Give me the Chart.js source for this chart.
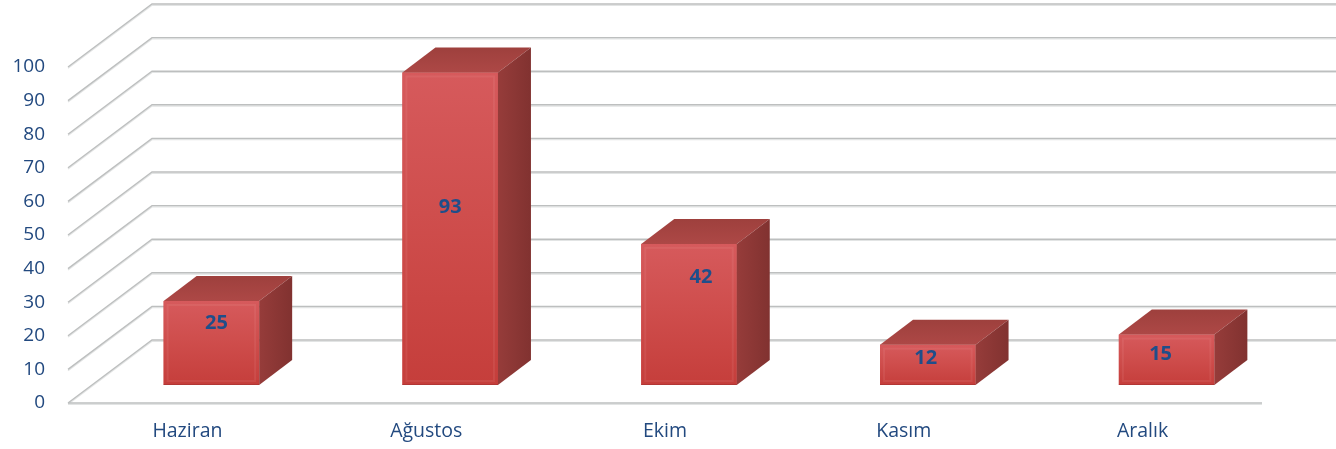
<!DOCTYPE html>
<html><head><meta charset="utf-8">
<script src="https://cdn.jsdelivr.net/npm/chart.js@4/dist/chart.umd.min.js"></script>
<style>html,body{margin:0;padding:0;background:#fff;overflow:hidden}</style>
</head><body>
<canvas id="c" width="1336" height="449" style="display:block;width:1336px;height:449px"></canvas>
<script>
const categories = ['Haziran', 'Ağustos', 'Ekim', 'Kasım', 'Aralık'];
const values = [25, 93, 42, 12, 15];
const yTickLabels = ['0', '10', '20', '30', '40', '50', '60', '70', '80', '90', '100'];

// presentation settings (3D projection, label nudges)
const DEPTH = { fx: 84, fy: -63, bx: 24, by: -18, dx: 33, dy: -25 };
const LABEL_LIFT = [0.74, 0.57, 0.76, 0.66, 0.6];
const LABEL_NUDGE = [5, 0, 12, -2, -6];
const TXT = '#22497f';
const FONT = '"Open Sans", "DejaVu Sans", sans-serif';

function gridPath(ctx, pts) {
  ctx.beginPath();
  pts.forEach((p, i) => i ? ctx.lineTo(p[0], p[1]) : ctx.moveTo(p[0], p[1]));
}
function drawGrid(ctx, pts) {
  ctx.lineWidth = 1.2;
  ctx.strokeStyle = '#e2e4e4';
  gridPath(ctx, pts.map(p => [p[0], p[1] + 1.3]));
  ctx.stroke();
  ctx.lineWidth = 1.4;
  ctx.strokeStyle = '#bdbfbf';
  gridPath(ctx, pts);
  ctx.stroke();
}

const threeD = {
  id: 'threeD',
  beforeDatasetsDraw(chart) {
    const { ctx, chartArea: a, scales: { y } } = chart;
    ctx.save();
    y.ticks.forEach(t => {
      const py = y.getPixelForValue(t.value);
      drawGrid(ctx, [[a.left, py], [a.left + DEPTH.fx, py + DEPTH.fy], [chart.width + 20, py + DEPTH.fy]]);
    });
    drawGrid(ctx, [[a.left, a.bottom], [a.right, a.bottom]]);
    ctx.restore();
    ctx.save();
    ctx.translate(DEPTH.bx, DEPTH.by);
  },
  afterDatasetsDraw(chart) {
    const ctx = chart.ctx;
    const meta = chart.getDatasetMeta(0);
    const { dx, dy } = DEPTH;
    meta.data.forEach((bar, i) => {
      const { x, y, base, width } = bar.getProps(['x', 'y', 'base', 'width'], true);
      const l = x - width / 2, r = x + width / 2;
      // front face gradient
      let g = ctx.createLinearGradient(0, y, 0, base);
      g.addColorStop(0, '#d65a5c');
      g.addColorStop(0.45, '#cf4e4d');
      g.addColorStop(1, '#c53e3b');
      ctx.fillStyle = g;
      ctx.fillRect(l, y, width, base - y);
      ctx.strokeStyle = 'rgba(255,200,200,0.09)';
      ctx.lineWidth = 2;
      ctx.strokeRect(l + 4, y + 4, width - 8, base - y - 8);
      ctx.strokeStyle = 'rgba(120,30,30,0.25)';
      ctx.lineWidth = 1;
      ctx.beginPath(); ctx.moveTo(l, base - 0.5); ctx.lineTo(r, base - 0.5); ctx.stroke();
      // top face
      g = ctx.createLinearGradient(0, y + dy, 0, y);
      g.addColorStop(0, '#9e403d');
      g.addColorStop(1, '#ad4846');
      ctx.fillStyle = g;
      ctx.beginPath();
      ctx.moveTo(l, y); ctx.lineTo(r, y); ctx.lineTo(r + dx, y + dy); ctx.lineTo(l + dx, y + dy);
      ctx.closePath(); ctx.fill();
      // side face
      g = ctx.createLinearGradient(r, 0, r + dx, 0);
      g.addColorStop(0, '#963c3a');
      g.addColorStop(1, '#813230');
      ctx.fillStyle = g;
      ctx.beginPath();
      ctx.moveTo(r, y); ctx.lineTo(r + dx, y + dy); ctx.lineTo(r + dx, base + dy); ctx.lineTo(r, base);
      ctx.closePath(); ctx.fill();
      // value label
      ctx.fillStyle = '#1f4e8a';
      ctx.font = 'bold 20px ' + FONT;
      ctx.textAlign = 'center';
      ctx.textBaseline = 'middle';
      const ly = base - (base - y) * LABEL_LIFT[i];
      ctx.fillText(String(values[i]), x + LABEL_NUDGE[i], ly);
    });
    ctx.restore();
  }
};

new Chart(document.getElementById('c'), {
  type: 'bar',
  data: {
    labels: categories,
    datasets: [{
      data: values,
      backgroundColor: '#cc4846',
      borderWidth: 0,
      barPercentage: 0.4,
      categoryPercentage: 1.0,
      clip: false
    }]
  },
  options: {
    responsive: false,
    animation: false,
    events: [],
    layout: { padding: { top: 67, right: 74, left: 0, bottom: 0 } },
    plugins: { legend: { display: false }, tooltip: { enabled: false } },
    scales: {
      x: {
        grid: { display: false, drawTicks: false },
        border: { display: false },
        ticks: { color: TXT, font: { family: FONT, size: 19.5 }, padding: 17, maxRotation: 0 },
        afterFit(s) { s.height = 46; }
      },
      y: {
        min: 0, max: 100,
        grid: { display: false, drawTicks: false },
        border: { display: false },
        ticks: {
          stepSize: 10,
          color: TXT,
          font: { family: FONT, size: 19 },
          padding: 23,
          callback: (v) => yTickLabels[Math.round(v / 10)]
        },
        afterFit(s) { s.width = 68; }
      }
    }
  },
  plugins: [threeD]
});
</script>
</body></html>
